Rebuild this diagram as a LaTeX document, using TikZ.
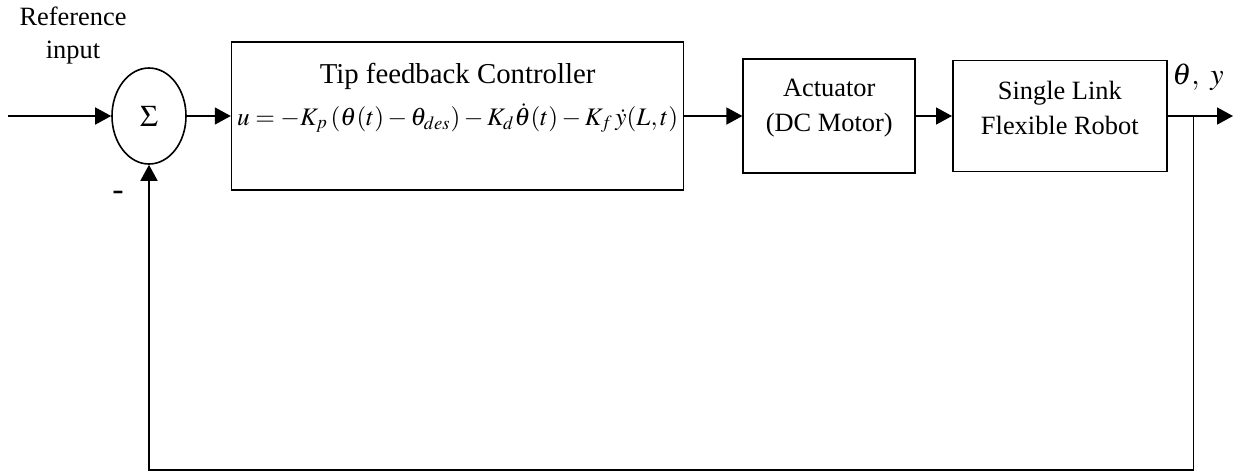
\documentclass[tikz,border=0pt]{standalone}
\usepackage{mathptmx}
\usepackage[no-math]{fontspec}
\setmainfont{Liberation Serif}
\usepackage{tikz}
\usetikzlibrary{shapes.geometric, arrows.meta, positioning}
\tikzstyle{arrow} = [thick,->,>={Triangle[length=8pt,width=8.5pt]}]
\tikzstyle{block} = [draw, thick, rectangle, inner sep=0pt]
\tikzstyle{sumnode} = [draw, thick, ellipse, minimum width=37pt, minimum height=48pt, inner sep=0pt]

\begin{document}
\begin{tikzpicture}[x=0.5pt, y=-0.5pt, node distance=22pt, font=\fontsize{13.2}{16.5}\selectfont]
    \useasboundingbox (0,0) rectangle (1234,472);

    % Blocks
    \node[sumnode] (sum) at (149,116) {\fontsize{15}{15}\selectfont$\Sigma$};
    \node[block, right=22pt of sum, minimum width=226pt, minimum height=74pt] (ctrl) {};
    \node[block, right=29pt of ctrl, minimum width=86pt, minimum height=57pt] (act) {};
    \node[block, right=18pt of act, minimum width=107pt, minimum height=55.5pt] (robot) {};

    % Texts
    \node[font=\fontsize{14.4}{17}\selectfont] (ctrltitle) at ([yshift=20pt]ctrl.center) {Tip feedback Controller};
    \node[font=\fontsize{12.6}{14}\selectfont, inner sep=0pt] (ctrleq) at ([yshift=-1pt]ctrl.center) {$u=-K_p\left(\theta(t)-\theta_{des}\right)-K_d\dot{\theta}(t)-K_f\,\dot{y}(L,t)$};
    \node[align=center, font=\fontsize{13.2}{17.5}\selectfont] (acttext) at ([yshift=4pt]act.center) {Actuator\\(DC Motor)};
    \node[align=center, font=\fontsize{13.2}{17.5}\selectfont] (robottext) at ([yshift=4pt]robot.center) {Single Link\\Flexible Robot};
    \node[align=center] (reftext) at (73,36) {Reference\\input};
    \node[font=\fontsize{17}{17}\selectfont] (minus) at (118,196) {-};
    \node[font=\fontsize{15}{15}\selectfont] (outtext) at (1198,77) {$\theta,\ y$};

    % Edges
    \coordinate (in) at (8,116);
    \coordinate (out) at (1233,116);
    \coordinate (branch) at ([xshift=13pt]robot.east);
    \draw[arrow] (in) -- (sum);
    \draw[arrow] (sum) -- (ctrl);
    \draw[arrow] (ctrl) -- (act);
    \draw[arrow] (act) -- (robot);
    \draw[arrow] (robot) -- (out);
    \draw[arrow] (branch) -- ++(0,354) -| (sum.south);
\end{tikzpicture}
\end{document}
